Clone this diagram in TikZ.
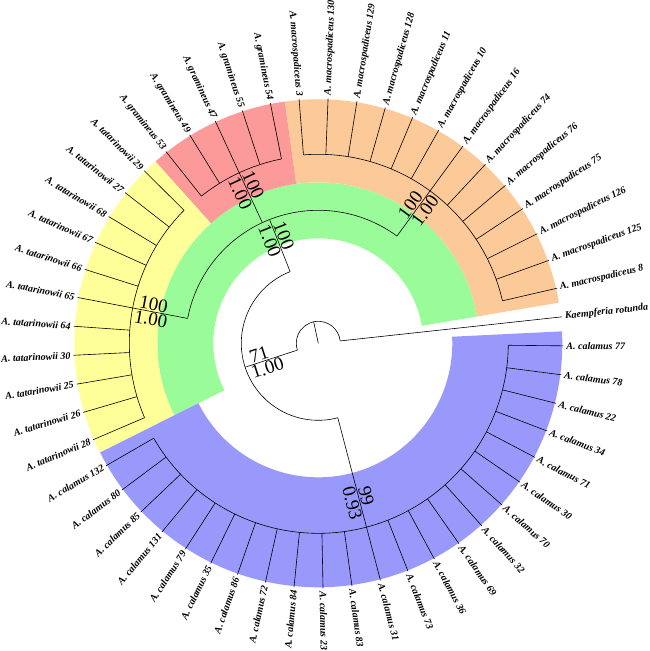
\documentclass[tikz,border=0pt]{standalone}
\usepackage{fontspec}
\setmainfont{Liberation Serif}
\newfontface\labfont{Liberation Serif Bold Italic}
\definecolor{cOrange}{RGB}{252,201,153}
\definecolor{cRed}{RGB}{252,153,153}
\definecolor{cYellow}{RGB}{255,255,153}
\definecolor{cGreen}{RGB}{153,252,153}
\definecolor{cBlue}{RGB}{153,153,252}
\newcommand{\mysector}[5]{\fill[#1] (#2:#4) arc[start angle=#2, end angle=#3, radius=#4] -- (#3:#5) arc[start angle=#3, end angle=#2, radius=#5] -- cycle;}
\newcommand{\supp}[6]{%
  \pgfmathsetmacro\srot{cos(#2)>0 ? #2 : #2-180}%
  \node[supplab, rotate=\srot, anchor=south] (#1a) at (#2:#3) {#5};%
  \node[supplab, rotate=\srot, anchor=north] (#1b) at (#2:#4) {#6};}
\begin{document}
\begin{tikzpicture}[x=1pt,y=1pt,
  br/.style={line width=0.6pt, black},
  leaflab/.style={font=\labfont\fontsize{10}{12}\selectfont, inner sep=0pt},
  supplab/.style={font=\fontsize{19}{22}\selectfont, inner sep=1pt}]
\useasboundingbox (-318.3,-307.7) rectangle (330.7,343.3);
% coloured bands
\mysector{cGreen}{9.596}{206.58}{105}{161}
\mysector{cOrange}{9.596}{97.90}{161}{244}
\mysector{cRed}{97.90}{131.86}{161}{244}
\mysector{cYellow}{131.86}{206.58}{161}{244}
\mysector{cBlue}{206.58}{362.81}{134}{244}
% leaves
\foreach \i/\rp/\nm in {
 0/22/Kaempferia rotunda,
 1/189/A. macrospadiceus 8, 2/189/A. macrospadiceus 125, 3/189/A. macrospadiceus 126,
 4/189/A. macrospadiceus 75, 5/189/A. macrospadiceus 76, 6/189/A. macrospadiceus 74,
 7/189/A. macrospadiceus 16, 8/189/A. macrospadiceus 10, 9/189/A. macrospadiceus 11,
 10/189/A. macrospadiceus 128, 11/189/A. macrospadiceus 129, 12/189/A. macrospadiceus 130,
 13/189/A. macrospadiceus 3,
 14/188/A. gramineus 54, 15/188/A. gramineus 55, 16/188/A. gramineus 47,
 17/188/A. gramineus 49, 18/188/A. gramineus 53,
 19/189/A. tatarinowii 29, 20/189/A. tatarinowii 27, 21/189/A. tatarinowii 68,
 22/189/A. tatarinowii 67, 23/189/A. tatarinowii 66, 24/189/A. tatarinowii 65,
 25/189/A. tatarinowii 64, 26/189/A. tatarinowii 30, 27/189/A. tatarinowii 25,
 28/189/A. tatarinowii 26, 29/189/A. tatarinowii 28,
 30/190/A. calamus 132, 31/190/A. calamus 80, 32/190/A. calamus 85, 33/190/A. calamus 131,
 34/190/A. calamus 79, 35/190/A. calamus 35, 36/190/A. calamus 86, 37/190/A. calamus 72,
 38/190/A. calamus 84, 39/190/A. calamus 23, 40/190/A. calamus 83, 41/190/A. calamus 31,
 42/190/A. calamus 73, 43/190/A. calamus 36, 44/190/A. calamus 69, 45/190/A. calamus 32,
 46/190/A. calamus 70, 47/190/A. calamus 30, 48/190/A. calamus 71, 49/190/A. calamus 34,
 50/190/A. calamus 22, 51/190/A. calamus 78, 52/190/A. calamus 77}{
  \pgfmathsetmacro\ang{6.2+\i*6.79245}
  \coordinate (base\i) at (\ang:\rp);
  \coordinate (tip\i) at (\ang:245);
  \draw[br] (base\i) -- (tip\i);
  \pgfmathsetmacro\cosv{cos(\ang)}
  \ifdim\cosv pt>0pt
    \node[leaflab, anchor=west, rotate=\ang] (lab\i) at (\ang:248) {\nm};
  \else
    \pgfmathsetmacro\rot{\ang-180}
    \node[leaflab, anchor=east, rotate=\rot] (lab\i) at (\ang:248) {\nm};
  \fi
}
% clade arcs
\draw[br] (base1) arc[start angle=12.99, end angle=94.50, radius=189];
\draw[br] (base14) arc[start angle=101.29, end angle=128.46, radius=188];
\draw[br] (base19) arc[start angle=135.26, end angle=203.18, radius=189];
\draw[br] (base30) arc[start angle=209.97, end angle=359.41, radius=190];
% internal nodes
\coordinate (gM) at (53.745:133);   \coordinate (nM) at (53.745:189);
\coordinate (gGr) at (114.875:133); \coordinate (nGr) at (114.875:188);
\coordinate (gT) at (169.22:133);   \coordinate (nT) at (169.22:189);
\draw[br] (gM) -- (nM);
\draw[br] (gGr) -- (nGr);
\draw[br] (gT) -- (nT);
\draw[br] (gM) arc[start angle=53.745, end angle=169.22, radius=133];
\coordinate (nG) at (111.48:133); \coordinate (aG) at (111.48:77);
\draw[br] (aG) -- (nG);
\coordinate (nB) at (284.69:190); \coordinate (aB) at (284.69:77);
\draw[br] (aB) -- (nB);
\draw[br] (aG) arc[start angle=111.48, end angle=284.69, radius=77];
\coordinate (nN) at (198.085:77); \coordinate (rN) at (198.085:22);
\draw[br] (rN) -- (nN);
\draw[br] (base0) arc[start angle=6.2, end angle=198.085, radius=22];
\coordinate (root) at (0,0); \coordinate (rootTop) at (102.14:22);
\draw[br] (root) -- (rootTop);
% support values
\supp{sN}{198.085}{60}{56}{71}{1.00}
\supp{sG}{111.48}{113}{113}{100}{1.00}
\supp{sT}{169.22}{169}{169}{100}{1.00}
\supp{sM}{53.745}{166}{170}{100}{1.00}
\supp{sGr}{114.875}{171}{169}{100}{1.00}
\supp{sB}{284.69}{160}{163}{99}{0.93}
\end{tikzpicture}
\end{document}
